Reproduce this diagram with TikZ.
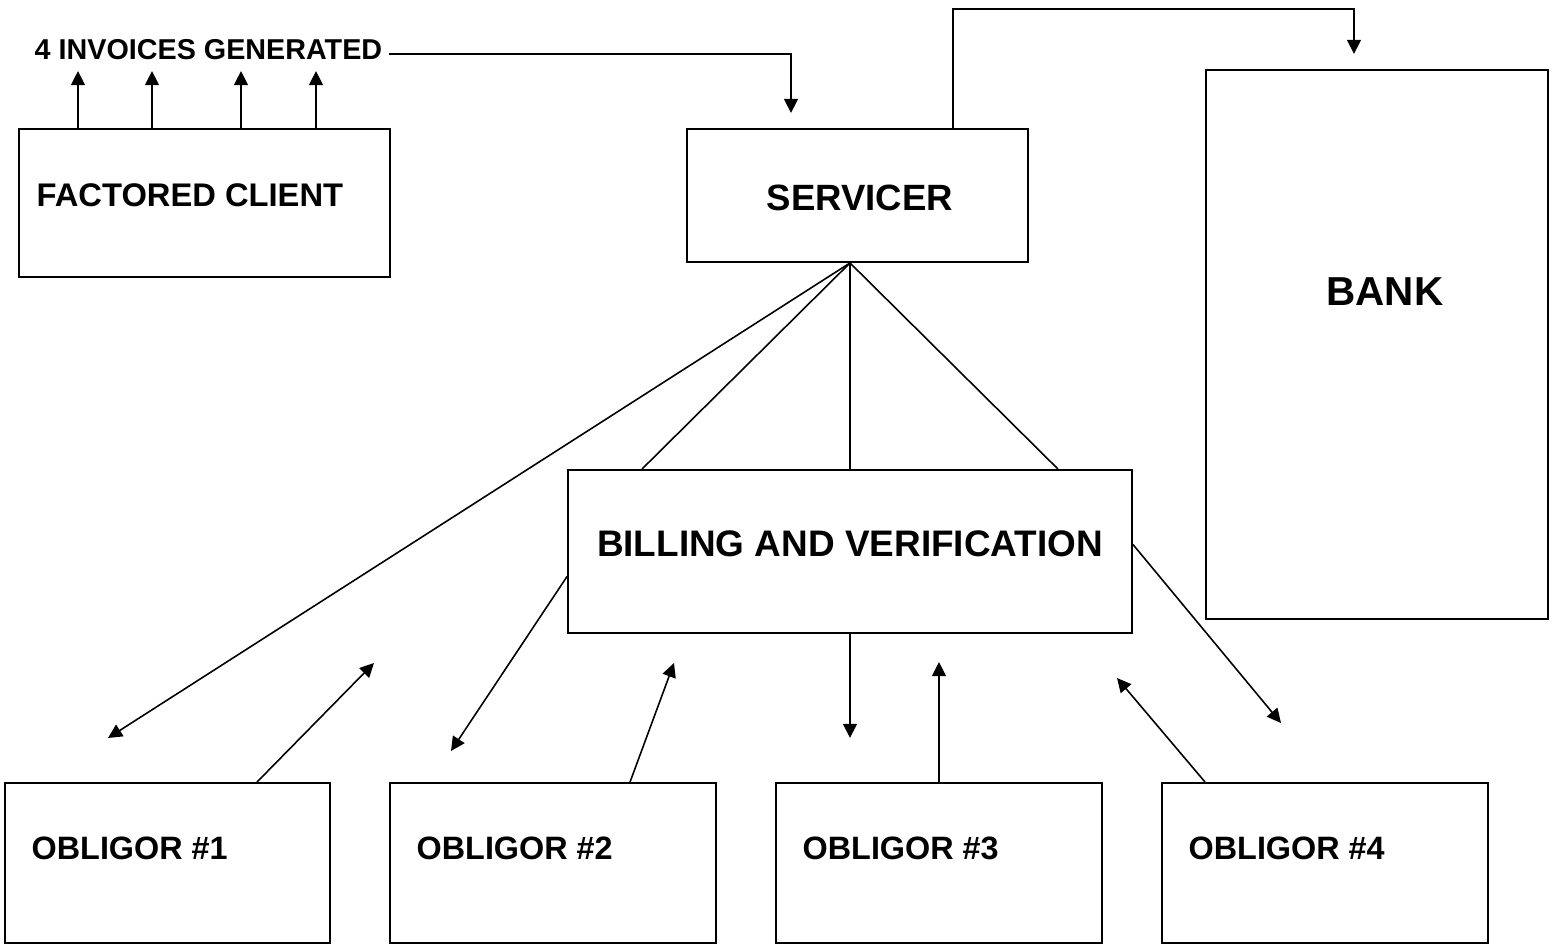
\documentclass[tikz,border=0pt]{standalone}
\usepackage{fontspec}
\setmainfont{Liberation Sans}
\usetikzlibrary{arrows.meta,fit,calc}
\tikzset{
  box/.style={draw=black, line width=0.55pt, inner sep=0pt},
  lbl/.style={inner sep=0pt, font=\bfseries},
  conn/.style={draw=black, line width=0.45pt},
  arr/.style={conn, -{Triangle[length=4pt,width=3.9pt]}},
}
\newcommand{\fsz}[1]{\fontsize{#1}{#1}\selectfont}
\begin{document}
\begin{tikzpicture}[x=0.01cm, y=-0.01cm]
\useasboundingbox (0,0) rectangle (1556,946);

% boxes
\node[box, fit={(19,129) (390,277)}] (fc) {};
\node[box, fit={(687,129) (1028,262)}] (serv) {};
\node[box, fit={(1206,70) (1548,619)}] (bank) {};
\node[box, fit={(568,470) (1132,633)}] (bv) {};
\node[box, fit={(5,783) (330,943)}] (ob1) {};
\node[box, fit={(390,783) (716,943)}] (ob2) {};
\node[box, fit={(776,783) (1102,943)}] (ob3) {};
\node[box, fit={(1162,783) (1488,943)}] (ob4) {};

% texts
\node[lbl, anchor=base west] (inv) at (34,60) {\fsz{8.17}4 INVOICES GENERATED};
\node[lbl, anchor=base west] (fct) at (36,207) {\fsz{9.3}FACTORED CLIENT};
\node[lbl, anchor=base] (servt) at (860,211) {\fsz{10.4}SERVICER};
\node[lbl, anchor=base] (bankt) at (1385,306) {\fsz{11.5}BANK};
\node[lbl, anchor=base] (bvt) at (850,557) {\fsz{10.5}BILLING AND VERIFICATION};
\node[lbl, anchor=base west] (o1t) at (31,860) {\fsz{9.2}OBLIGOR \#1};
\node[lbl, anchor=base west] (o2t) at (416,860) {\fsz{9.2}OBLIGOR \#2};
\node[lbl, anchor=base west] (o3t) at (802,860) {\fsz{9.2}OBLIGOR \#3};
\node[lbl, anchor=base west] (o4t) at (1188,860) {\fsz{9.2}OBLIGOR \#4};

% free arrow ends
\coordinate (i1) at (78,71);
\coordinate (i2) at (152,71);
\coordinate (i3) at (241,71);
\coordinate (i4) at (316,71);
\coordinate (st) at (791,113);
\coordinate (bt) at (1354,54);
\coordinate (t1) at (108,738);
\coordinate (t2) at (374,663);
\coordinate (t3) at (451,751);
\coordinate (t4) at (674,663);
\coordinate (t5) at (850,738);
\coordinate (t6) at (939,662);
\coordinate (t7) at (1117,678);
\coordinate (t8) at (1281,723);
\coordinate (apex) at (bv.north |- serv.south);

% invoices
\foreach \c in {i1,i2,i3,i4} \draw[arr] (\c |- fc.north) -- (\c);
\draw[arr] ($(inv.east)+(6,4)$) -| (st);

% servicer to bank
\draw[arr] ($(serv.north west)+(267,0)$) -- ++(0,-119) -| (bt);

% servicer fan-out
\draw[conn] (apex) -- ($(bv.north west)+(75,0)$);
\draw[conn] (apex) -- (bv.north);
\draw[conn] (apex) -- ($(bv.north east)+(-75,0)$);
\draw[arr] (apex) -- (t1);

% billing and obligors
\draw[arr] ($(ob1.north west)+(253,0)$) -- (t2);
\draw[arr] ($(bv.west)+(0,25)$) -- (t3);
\draw[arr] ($(ob2.north west)+(241,0)$) -- (t4);
\draw[arr] (bv.south) -- (t5);
\draw[arr, line width=0.55pt] (t6 |- ob3.north) -- (t6);
\draw[arr] ($(ob4.north west)+(44,0)$) -- (t7);
\draw[arr] ($(bv.east)+(0,-7)$) -- (t8);
\end{tikzpicture}
\end{document}
